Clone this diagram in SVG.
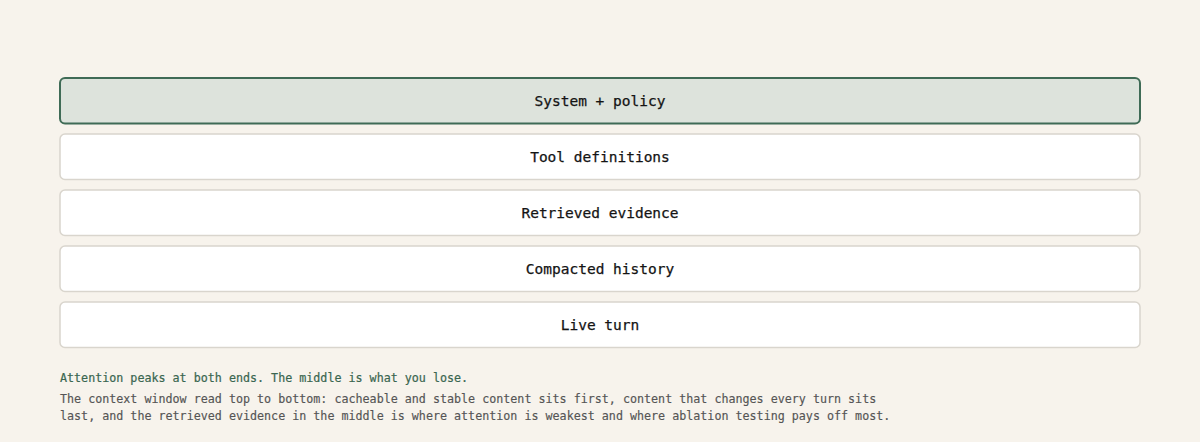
<svg xmlns="http://www.w3.org/2000/svg" width="1200" height="442" viewBox="0 0 1200 442">
<style>
.bg{fill:#f7f3ec}
.box{fill:#ffffff;stroke:#d9d5cd;stroke-width:1.5}
.box.hl{fill:#dde3dc;stroke:#3f6b56;stroke-width:2}
.lbl{font-family:"DejaVu Sans Mono","Liberation Mono",monospace;font-size:14.5px;fill:#141414;stroke:#141414;stroke-width:0.25;text-anchor:middle;dominant-baseline:central}
.cap{font-family:"DejaVu Sans Mono","Liberation Mono",monospace;font-size:11.7px;fill:#3a6650;stroke:#3a6650;stroke-width:0.2}
.body{font-family:"DejaVu Sans Mono","Liberation Mono",monospace;font-size:11.7px;fill:#555555;stroke:#555555;stroke-width:0.15}
</style>
<rect class="bg" x="0" y="0" width="1200" height="442"/>
<g id="connectors"></g>
<g id="node-system">
<rect class="box hl" x="60" y="78" width="1080" height="45.5" rx="5"/>
<text class="lbl" x="600" y="101">System + policy</text>
</g>
<g id="node-tools">
<rect class="box" x="60" y="134" width="1080" height="45.5" rx="5"/>
<text class="lbl" x="600" y="157">Tool definitions</text>
</g>
<g id="node-retrieved">
<rect class="box" x="60" y="190" width="1080" height="45.5" rx="5"/>
<text class="lbl" x="600" y="213">Retrieved evidence</text>
</g>
<g id="node-history">
<rect class="box" x="60" y="246" width="1080" height="45.5" rx="5"/>
<text class="lbl" x="600" y="269">Compacted history</text>
</g>
<g id="node-live">
<rect class="box" x="60" y="302" width="1080" height="45.5" rx="5"/>
<text class="lbl" x="600" y="325">Live turn</text>
</g>
<g id="caption">
<text class="cap" x="60" y="382">Attention peaks at both ends. The middle is what you lose.</text>
<text class="body" x="60" y="403">The context window read top to bottom: cacheable and stable content sits first, content that changes every turn sits</text>
<text class="body" x="60" y="419.5">last, and the retrieved evidence in the middle is where attention is weakest and where ablation testing pays off most.</text>
</g>
</svg>
